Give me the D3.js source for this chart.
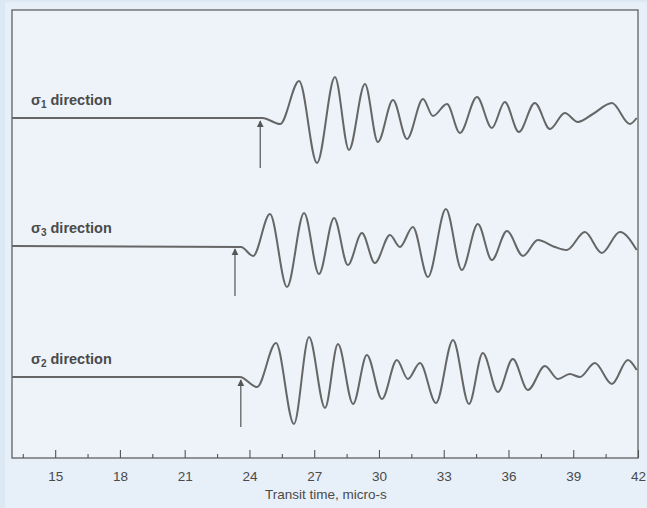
<!DOCTYPE html>
<html>
<head>
<meta charset="utf-8">
<script src="https://cdn.jsdelivr.net/npm/d3@7"></script>
<style>
  body { margin: 0; background: #dce8f4; }
  text { font-family: "Liberation Sans", Arial, sans-serif; fill: #4a4a4a; }
</style>
</head>
<body>
<script>
const width = 647;
const height = 508;

// transit time (micro-s) and relative amplitude of each trace
const s1Time = [13, 24.6, 25.42, 26.3, 27.13, 27.96, 28.61, 29.35, 29.95, 30.65, 31.3, 32.04, 32.5, 33.15, 33.75, 34.54, 35.23, 35.83, 36.48, 37.22, 37.92, 38.61, 39.21, 39.91, 40.79, 41.62, 41.94];
const s1Amp  = [0, 0, -6, 37, -45, 41, -32, 34, -24, 18, -21, 19, 2, 14, -15, 21, -10, 16, -14, 15, -11, 5, -4, 4, 15, -6, 0];

const s3Time = [13, 23.61, 24.17, 24.95, 25.74, 26.53, 27.22, 27.92, 28.56, 29.21, 29.81, 30.51, 30.97, 31.57, 32.27, 33.1, 33.84, 34.58, 35.23, 35.93, 36.67, 37.36, 38.15, 38.7, 39.54, 40.32, 41.16, 41.94];
const s3Amp  = [0, -1, -10, 32, -41, 33, -28, 28, -19, 13, -17, 11, -1, 19, -31, 37, -24, 22, -14, 15, -10, 6, -1, -4, 14, -7, 14, -4];

const s2Time = [13, 23.56, 24.35, 25.23, 26.06, 26.76, 27.5, 28.1, 28.8, 29.44, 30.14, 30.83, 31.34, 31.9, 32.64, 33.43, 34.17, 34.81, 35.51, 36.2, 36.9, 37.69, 38.29, 38.84, 39.31, 40.0, 40.79, 41.53, 41.94];
const s2Amp  = [0, 0, -10, 34, -47, 40, -31, 33, -27, 22, -22, 17, -2, 14, -26, 37, -27, 24, -15, 18, -13, 11, -2, 3, 0, 14, -7, 17, 7];

// first arrival picks (arrows)
const arrivals = [24.5, 23.33, 23.6];
const traceNames = ["1", "3", "2"];

const majorTicks = [15, 18, 21, 24, 27, 30, 33, 36, 39, 42];
const minorTicks = [13.5, 16.5, 19.5, 22.5, 25.5, 28.5, 31.5, 34.5, 37.5, 40.5];

const frame = { left: 12, top: 10, right: 638, bottom: 458 };
const baselines = [118, 246, 377];

var svg = d3.select("body").append("svg")
  .attr("width", width)
  .attr("height", height);

svg.append("rect")
  .attr("x", 5).attr("y", 2)
  .attr("width", width - 5).attr("height", height - 2)
  .attr("fill", "#e7eff8");

svg.append("rect")
  .attr("x", frame.left).attr("y", frame.top)
  .attr("width", frame.right - frame.left)
  .attr("height", frame.bottom - frame.top)
  .attr("fill", "#edf3f9")
  .attr("stroke", "#555")
  .attr("stroke-width", 1.2);

var x = d3.scaleLinear().domain([13, 42]).range([frame.left, frame.right]);

// axis: ticks point up into the plot
var axisG = svg.append("g").attr("transform", "translate(0," + frame.bottom + ")");
axisG.call(d3.axisBottom(x).tickValues(minorTicks).tickSize(-4).tickFormat(""))
  .call(g => g.select(".domain").remove());
axisG.append("g")
  .call(d3.axisBottom(x).tickValues(majorTicks).tickSize(-8).tickPadding(13).tickFormat(d3.format("d")))
  .call(g => g.select(".domain").remove());
axisG.selectAll(".tick line").attr("stroke", "#555").attr("stroke-width", 1.1);
axisG.selectAll(".tick text")
  .attr("font-family", "Liberation Sans, Arial, sans-serif")
  .attr("font-size", 13.5)
  .attr("fill", "#4a4a4a");

svg.append("text")
  .attr("x", 326).attr("y", 499)
  .attr("text-anchor", "middle")
  .attr("font-size", 13.5)
  .text("Transit time, micro-s");

svg.append("defs").append("marker")
  .attr("id", "head")
  .attr("viewBox", "0 0 10 10")
  .attr("refX", 9).attr("refY", 5)
  .attr("markerWidth", 6).attr("markerHeight", 7)
  .attr("orient", "auto")
  .append("path")
  .attr("d", "M0,0L10,5L0,10z")
  .attr("fill", "#555");

var traces = [
  { t: s1Time, a: s1Amp },
  { t: s3Time, a: s3Amp },
  { t: s2Time, a: s2Amp }
];

traces.forEach(function(tr, i) {
  var b = baselines[i];
  var y = d3.scaleLinear().domain([-50, 50]).range([b + 50, b - 50]);
  var pts = tr.t.map((t, j) => [t, tr.a[j]]);

  var line = d3.line()
    .x(d => x(d[0]))
    .y(d => y(d[1]))
    .curve(d3.curveMonotoneX);

  svg.append("path")
    .datum(pts)
    .attr("d", line)
    .attr("fill", "none")
    .attr("stroke", "#666")
    .attr("stroke-width", 2);

  svg.append("line")
    .attr("x1", x(arrivals[i])).attr("x2", x(arrivals[i]))
    .attr("y1", y(-50)).attr("y2", y(-3))
    .attr("stroke", "#555")
    .attr("stroke-width", 1.2)
    .attr("marker-end", "url(#head)");

  var label = svg.append("text")
    .attr("x", 31).attr("y", b - 13)
    .attr("font-size", 14.5)
    .attr("font-weight", "bold")
    .attr("fill", "#555");
  label.append("tspan").text("σ");
  label.append("tspan").attr("font-size", 10).attr("dy", 3).text(traceNames[i]);
  label.append("tspan").attr("dy", -3).text(" direction");
});
</script>
</body>
</html>
